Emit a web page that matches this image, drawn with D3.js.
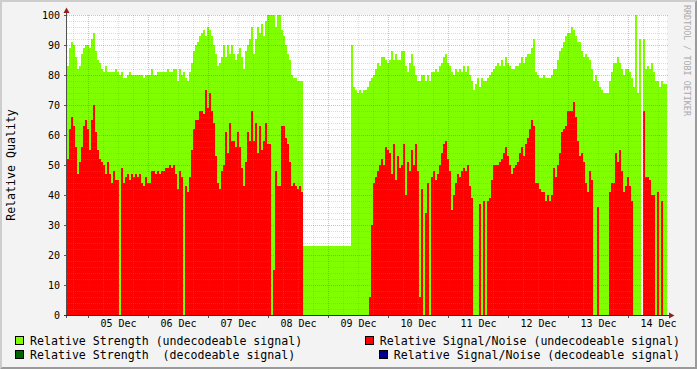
<!DOCTYPE html>
<html><head><meta charset="utf-8">
<script src="https://cdn.jsdelivr.net/npm/d3@7"></script>
<style>
html,body{margin:0;padding:0;background:#f3f3f3}
svg{display:block}
text{font-family:"DejaVu Sans Mono",monospace;white-space:pre}
</style>
</head><body>
<svg id="chart" width="697" height="369"></svg>
<script>
// ---------------- DATA ----------------
const startTime = "2008-12-04T15:36:00Z";
const stepMinutes = 48;
const yTickValues = [0, 10, 20, 30, 40, 50, 60, 70, 80, 90, 100];
const yTitle = "Relative Quality";
const watermark = "RRDTOOL / TOBI OETIKER";
const legendLabels = [
  "Relative Strength (undecodeable signal)",
  "Relative Signal/Noise (undecodeable signal)",
  "Relative Strength  (decodeable signal)",
  "Relative Signal/Noise (decodeable signal)"
];
const legendColors = ["#7fff00", "#ff0000", "#006400", "#000090"];

// Relative Strength (undecodeable signal)
const strengthUndecodeable = [
  83, 89, 91, 90, 86, 82, 83, 87, 89, 90,
  90, 89, 92, 94, 88, 85, 84, 82, 81, 83,
  81, 81, 81, 81, 82, 81, 80, 81, 79, 79,
  80, 81, 80, 80, 80, 80, 80, 80, 79, 80,
  80, 80, 82, 80, 80, 81, 81, 81, 81, 81,
  82, 81, 81, 82, 82, 78, 82, 80, 81, 79,
  78, 81, 84, 88, 90, 91, 93, 94, 95, 93,
  96, 95, 93, 90, 87, 83, 84, 86, 90, 86,
  90, 87, 90, 87, 85, 87, 89, 86, 82, 88,
  90, 92, 96, 87, 92, 96, 94, 97, 93, 98,
  100, 100, 100, 100, 96, 100, 100, 95, 93, 90,
  87, 85, 80, 79, 79, 78, 78, 78, 23, 23,
  23, 23, 23, 23, 23, 23, 23, 23, 23, 23,
  23, 23, 23, 23, 23, 23, 23, 23, 23, 23,
  23, 23, 90, 76, 75, 74, 75, 74, 75, 75,
  76, 78, 79, 80, 82, 84, 83, 86, 86, 85,
  84, 85, 88, 85, 87, 85, 85, 88, 88, 83,
  81, 84, 87, 83, 80, 78, 78, 80, 80, 78,
  80, 78, 81, 81, 82, 81, 83, 84, 86, 87,
  84, 83, 81, 80, 82, 81, 82, 81, 83, 81,
  83, 80, 78, 75, 77, 79, 76, 79, 78, 78,
  79, 80, 81, 82, 83, 84, 83, 85, 83, 86,
  84, 83, 82, 82, 83, 83, 84, 86, 84, 86,
  87, 87, 89, 92, 81, 80, 79, 79, 80, 79,
  79, 79, 80, 82, 82, 85, 88, 89, 91, 93,
  94, 94, 96, 95, 93, 91, 91, 88, 86, 87,
  86, 85, 82, 78, 80, 78, 76, 75, 74, 74,
  74, 78, 81, 84, 84, 86, 84, 82, 80, 82,
  82, 81, 79, 76, 100, 74, 92, null, 92, 82,
  83, 82, 84, 81, 78, 78, 76, 78, 77, 77
];

// Relative Signal/Noise (undecodeable signal)
const snrUndecodeable = [
  52, 62, 66, 63, 56, 47, 51, 56, 63, 65,
  62, 55, 65, 70, 61, 55, 52, 51, 50, 47,
  51, 47, 44, 48, 45, 45, 0, 49, 44, 46,
  47, 45, 47, 46, 47, 46, 47, 44, 43, 46,
  44, 44, 48, 48, 47, 48, 47, 48, 48, 49,
  49, 50, 49, 50, 47, 42, 48, 46, 0, 43,
  41, 46, 55, 62, 65, 65, 68, 68, 67, 75,
  69, 74, 68, 64, 53, 44, 42, 48, 50, 61,
  54, 64, 58, 58, 56, 61, 56, 49, 43, 51,
  61, 58, 68, 58, 64, 54, 63, 55, 58, 64,
  57, 57, 0, 15, 48, 43, 43, 63, 63, 59,
  57, 51, 43, 44, 43, 42, 43, 41, 0, 0,
  0, 0, 0, 0, 0, 0, 0, 0, 0, 0,
  0, 0, 0, 0, 0, 0, 0, 0, 0, 0,
  0, 0, 0, 0, 0, 0, 0, 0, 0, 0,
  0, 6, 30, 44, 46, 48, 50, 52, 50, 56,
  55, 54, 47, 57, 45, 53, 49, 50, 57, 40,
  51, 48, 55, 50, 57, 48, 6, 42, 0, 34,
  44, 0, 46, 48, 45, 47, 50, 54, 57, 58,
  52, 48, 35, 40, 44, 47, 46, 48, 49, 48,
  50, 43, 39, 0, 0, 0, 37, 0, 38, 0,
  38, 39, 45, 50, 50, 50, 51, 52, 54, 56,
  53, 50, 47, 49, 50, 51, 54, 56, 53, 57,
  59, 62, 65, 63, 44, 44, 42, 41, 41, 38,
  40, 38, 40, 49, 46, 50, 54, 61, 62, 63,
  68, 68, 68, 71, 66, 58, 53, 54, 51, 44,
  41, 48, 45, 0, 0, 36, 0, 0, 0, 0,
  0, 41, 44, 44, 54, 51, 55, 48, 41, 43,
  46, 43, 38, 0, 0, 0, 0, null, 68, 46,
  46, 45, 40, 40, 0, 41, 0, 38, 0, 0
];

// decodeable signal series: no samples in this period
const strengthDecodeable = [];
const snrDecodeable = [];

// ---------------- DRAWING ----------------
const W = 697, H = 369;
const PL = 67, PR = 667, PT = 15, PB = 315;
const svg = d3.select("#chart");

const stepMs = stepMinutes * 60000;
const t0 = new Date(startTime);
const nSteps = strengthUndecodeable.length;
const tEnd = new Date(+t0 + nSteps * stepMs);
const times = d3.range(nSteps).map(i => new Date(+t0 + i * stepMs));

const x = d3.scaleUtc().domain([t0, tEnd]).range([PL, PR]);
const y = d3.scaleLinear().domain([0, 100]).range([PB, PT]);

// canvas + 3D frame
svg.append("rect").attr("width", W).attr("height", H).attr("fill", "#f3f3f3");
svg.append("path").attr("fill", "#cdcdcd")
  .attr("d", `M0,${H} L2,${H-2} L2,2 L${W-2},2 L${W},0 L0,0 Z`);
svg.append("path").attr("fill", "#9a9a9a")
  .attr("d", `M2,${H-2} L${W-2},${H-2} L${W-2},2 L${W},0 L${W},${H} L0,${H} Z`);

// plot background
svg.append("rect").attr("x", PL).attr("y", PT).attr("width", PR - PL).attr("height", PB - PT)
  .attr("fill", "#ffffff");

function drawBars(values, color) {
  const data = values.map((v, i) => ({ v, i })).filter(d => Number.isFinite(d.v) && d.v > 0);
  svg.append("g").attr("shape-rendering", "crispEdges")
    .selectAll("rect").data(data).join("rect")
    .attr("x", d => x(times[d.i]))
    .attr("width", d => x(new Date(+times[d.i] + stepMs)) - x(times[d.i]))
    .attr("y", d => y(d.v))
    .attr("height", d => y(0) - y(d.v))
    .attr("fill", color);
}
drawBars(strengthUndecodeable, legendColors[0]);
drawBars(snrUndecodeable, legendColors[1]);
drawBars(strengthDecodeable, legendColors[2]);
drawBars(snrDecodeable, legendColors[3]);

// grid (on top of data, like rrdtool)
const grid = svg.append("g").attr("shape-rendering", "crispEdges").attr("stroke-dasharray", "1,1");
const minorY = d3.range(2, 101, 2).filter(v => v % 10 !== 0);
const majorY = yTickValues.filter(v => v > 0);
grid.selectAll(".hmin").data(minorY).join("line")
  .attr("x1", PL).attr("x2", PR + 1).attr("y1", d => y(d) + 0.5).attr("y2", d => y(d) + 0.5)
  .attr("stroke", "rgba(140,140,140,0.3)");
const dayTicks = d3.utcDay.range(t0, tEnd);
const sixHour = d3.utcHour.every(6).range(t0, tEnd).filter(t => t.getUTCHours() !== 0);
grid.selectAll(".vmin").data(sixHour).join("line")
  .attr("x1", d => Math.round(x(d)) + 0.5).attr("x2", d => Math.round(x(d)) + 0.5)
  .attr("y1", PT).attr("y2", PB)
  .attr("stroke", "rgba(140,140,140,0.3)");
grid.selectAll(".hmaj").data(majorY).join("line")
  .attr("x1", PL).attr("x2", PR + 1).attr("y1", d => y(d) + 0.5).attr("y2", d => y(d) + 0.5)
  .attr("stroke", "rgba(200,40,40,0.35)");
grid.selectAll(".vmaj").data(dayTicks).join("line")
  .attr("x1", d => Math.round(x(d)) + 0.5).attr("x2", d => Math.round(x(d)) + 0.5)
  .attr("y1", PT).attr("y2", PB)
  .attr("stroke", "rgba(200,40,40,0.35)");

// axes with labels
const fmt = d3.utcFormat("%d %b");
const noonTicks = dayTicks.map(d => new Date(+d + 12 * 3600000));
const xAxis = svg.append("g").attr("transform", `translate(0,${PB})`)
  .call(d3.axisBottom(x).tickValues(noonTicks).tickFormat(fmt).tickSize(0).tickPadding(5));
xAxis.select(".domain").remove();
xAxis.selectAll("text").attr("font-family", "DejaVu Sans Mono").attr("font-size", 10).attr("fill", "#000");

const xTicks = svg.append("g").attr("transform", `translate(0,${PB})`)
  .call(d3.axisBottom(x).tickValues(dayTicks).tickFormat("").tickSize(3));
xTicks.select(".domain").remove();
xTicks.selectAll("line").attr("stroke", "#555");

const yAxis = svg.append("g").attr("transform", `translate(${PL},0)`)
  .call(d3.axisLeft(y).tickValues(yTickValues).tickSize(3).tickPadding(4));
yAxis.select(".domain").remove();
yAxis.selectAll("line").attr("stroke", "#555");
yAxis.selectAll("text").attr("font-family", "DejaVu Sans Mono").attr("font-size", 10).attr("fill", "#000").attr("dy", "0.36em");

// axis lines + arrows
svg.append("line").attr("x1", 66.5).attr("x2", 66.5).attr("y1", PB + 3).attr("y2", 12)
  .attr("stroke", "#505050").attr("shape-rendering", "crispEdges");
svg.append("line").attr("x1", 64).attr("x2", 670).attr("y1", PB + 0.5).attr("y2", PB + 0.5)
  .attr("stroke", "#28285a").attr("shape-rendering", "crispEdges");
svg.append("path").attr("fill", "#962020").attr("d", "M66.5,7.5 L63.5,13 L69.5,13 Z");
svg.append("path").attr("fill", "#962020").attr("d", `M674.5,${PB + 0.5} L669,${PB - 2.5} L669,${PB + 3.5} Z`);

// y title
svg.append("text").attr("transform", `translate(15,${(PT + PB) / 2}) rotate(-90)`)
  .attr("text-anchor", "middle").attr("font-size", 11.6).attr("fill", "#000").text(yTitle);

// watermark
svg.append("text").attr("transform", "translate(684,5) rotate(90)")
  .attr("font-size", 8.4).attr("fill", "#ababab").text(watermark);

// legend
const legendRows = [345, 359];
legendLabels.forEach((label, i) => {
  const row = Math.floor(i / 2), col = i % 2;
  const base = legendRows[row];
  const t = svg.append("text").attr("y", base).attr("font-size", 11.6).attr("fill", "#000").text(label);
  let tx;
  if (col === 0) { tx = 30; t.attr("x", tx); }
  else { t.attr("x", 680).attr("text-anchor", "end"); tx = 680 - t.node().getComputedTextLength(); }
  svg.append("rect").attr("x", tx - 14.5).attr("y", base - 8.5).attr("width", 8).attr("height", 8)
    .attr("fill", legendColors[i]).attr("stroke", "#000").attr("stroke-width", 1)
    .attr("shape-rendering", "crispEdges");
});
</script>
</body></html>
